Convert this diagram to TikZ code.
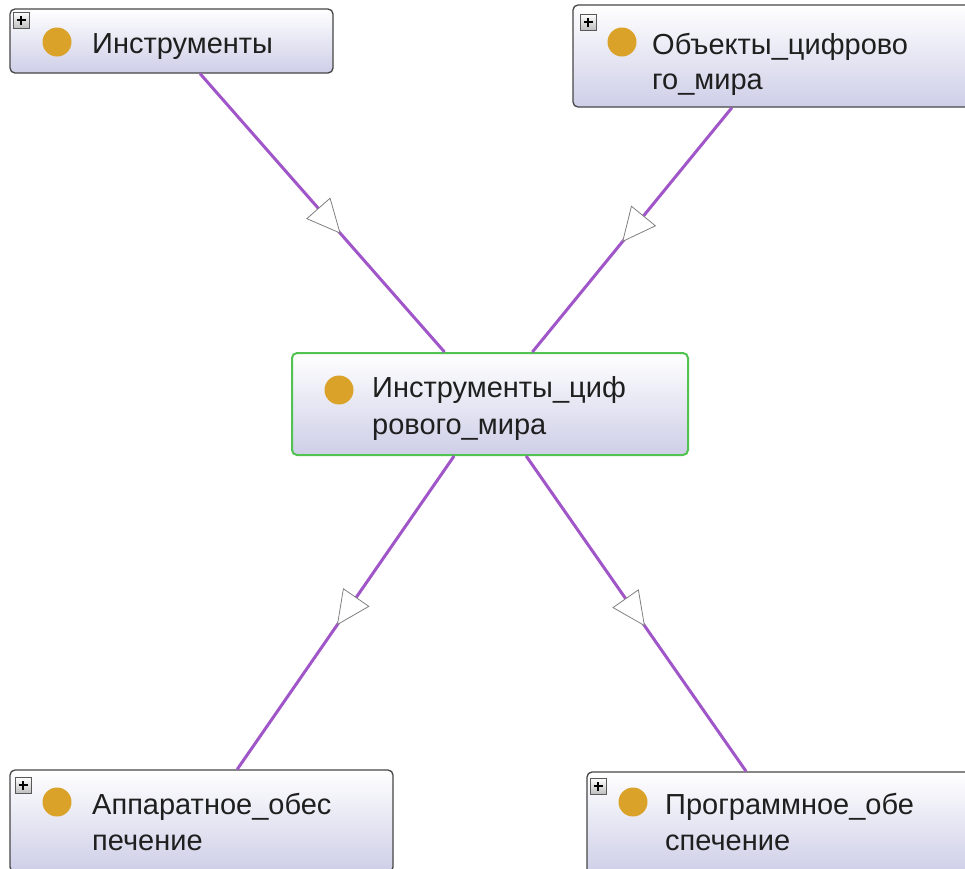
\documentclass[tikz,border=0pt]{standalone}
\usepackage{fontspec}
\setmainfont{Liberation Sans}
\usetikzlibrary{arrows.meta,decorations.markings}
\definecolor{edgec}{RGB}{160,85,200}
\definecolor{dotc}{RGB}{218,162,40}
\definecolor{boxbot}{RGB}{206,206,232}
\definecolor{boxline}{RGB}{70,70,70}
\definecolor{selline}{RGB}{80,195,80}
\tikzset{
  cls/.style={draw=boxline, line width=1.3pt, rounded corners=5pt, top color=white, bottom color=boxbot, inner sep=0pt},
  sel/.style={cls, draw=selline, line width=2pt},
  dot/.style={circle, fill=dotc, minimum size=29pt, inner sep=0pt},
  lbl/.style={anchor=base west, inner sep=0pt, font=\fontsize{29}{36}\selectfont, text=black!88},
  plusbox/.style={draw=black!65, line width=0.7pt, top color=white, bottom color=black!25, minimum size=16pt, inner sep=0pt,
    path picture={\draw[line width=1.7pt, black] ([xshift=-4.5pt]path picture bounding box.center) -- ([xshift=4.5pt]path picture bounding box.center);
                  \draw[line width=1.7pt, black] ([yshift=-4.5pt]path picture bounding box.center) -- ([yshift=4.5pt]path picture bounding box.center);}},
  isa/.style={draw=edgec, line width=3pt,
    decoration={markings, mark=at position #1 with {\arrow{Triangle[fill=white, color=black!50, line width=0.8pt, length=34pt, width=32pt]}}},
    postaction={decorate}}
}
\begin{document}
\begin{tikzpicture}[x=1pt, y=-1pt]
\useasboundingbox (0,0) rectangle (965,868);
\clip (0,0) rectangle (965,868);
\fill[white] (0,0) rectangle (965,868);

% boxes
\node[cls, minimum width=323pt, minimum height=64pt] (b1) at (171.5,41) {};
\node[cls, minimum width=402pt, minimum height=102pt] (b2) at (774,56) {};
\node[sel, minimum width=396pt, minimum height=102pt] (c) at (490,404) {};
\node[cls, minimum width=383pt, minimum height=102pt] (b4) at (201.5,821) {};
\node[cls, minimum width=390pt, minimum height=102pt] (b5) at (782,823) {};

% connectors
\draw[isa=0.575] (b1) -- (c);
\draw[isa=0.55] (b2) -- (c);
\draw[isa=0.54] (c) -- (b4);
\draw[isa=0.54] (c) -- (b5);

% expand icons
\node[plusbox] (p1) at (21,20) {};
\node[plusbox] (p2) at (588,22) {};
\node[plusbox] (p4) at (23,785) {};
\node[plusbox] (p5) at (598,786) {};

% class dots
\node[dot] (d1) at (57,42) {};
\node[dot] (d2) at (622,42) {};
\node[dot] (dc) at (339,390) {};
\node[dot] (d4) at (57,802) {};
\node[dot] (d5) at (633,802) {};

% labels
\node[lbl] (t1) at (92,53) {Инструменты};
\node[lbl] (t2a) at (652,54) {Объекты\_цифрово};
\node[lbl] (t2b) at (652,89) {го\_мира};
\node[lbl] (tca) at (372,397) {Инструменты\_циф};
\node[lbl] (tcb) at (372,434) {рового\_мира};
\node[lbl] (t4a) at (92,814) {Аппаратное\_обес};
\node[lbl] (t4b) at (92,850) {печение};
\node[lbl] (t5a) at (665,814) {Программное\_обе};
\node[lbl] (t5b) at (665,850) {спечение};
\end{tikzpicture}
\end{document}
